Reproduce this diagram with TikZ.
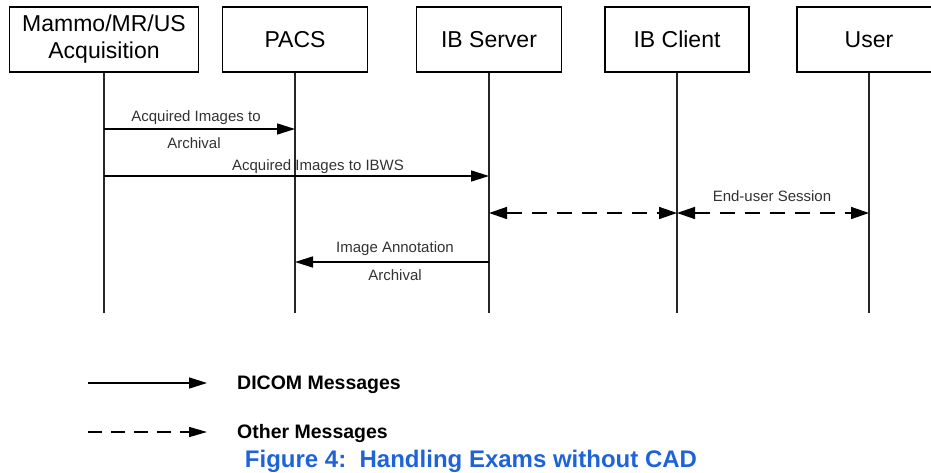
\documentclass[tikz,border=0pt]{standalone}
\usepackage{fontspec}
\setmainfont{Liberation Sans}
\usetikzlibrary{arrows.meta}
\definecolor{capblue}{RGB}{30,100,215}
\definecolor{lblgray}{RGB}{50,50,50}
\begin{document}
\begin{tikzpicture}[x=1pt,y=-1pt,
  box/.style={draw, line width=1.3pt, minimum height=65pt, inner sep=0pt,
    font=\fontsize{23}{27}\selectfont, align=center},
  life/.style={line width=1.9pt, draw=black!85},
  msg/.style={line width=1.5pt, -{Triangle[length=18pt,width=11pt]}},
  dmsg/.style={line width=1.5pt, dash pattern=on 15pt off 10pt,
    {Triangle[length=18pt,width=12pt]}-{Triangle[length=18pt,width=12pt]}},
  lmsg/.style={line width=1.5pt, dash pattern=on 14pt off 9pt, -{Triangle[length=18pt,width=10pt]}},
  lbl/.style={font=\fontsize{15}{18}\selectfont, text=lblgray, inner sep=0pt, anchor=base},
  leg/.style={font=\bfseries\fontsize{19.5}{22}\selectfont, inner sep=0pt, anchor=base west}
]
\useasboundingbox (0,0) rectangle (931,472);
\clip (0,0) rectangle (931,472);

% participants
\node[box, minimum width=189pt] (acq) at (104,39.5) {Mammo/MR/US\\Acquisition};
\node[box, minimum width=145pt] (pacs) at (295,39.5) {PACS};
\node[box, minimum width=145pt] (ibs) at (489,39.5) {IB Server};
\node[box, minimum width=144pt] (ibc) at (677,39.5) {IB Client};
\node[box, minimum width=144pt] (user) at (869,39.5) {User};

% lifeline ends
\coordinate (acqE) at (104,313);
\coordinate (pacsE) at (295,313);
\coordinate (ibsE) at (489,313);
\coordinate (ibcE) at (677,313);
\coordinate (userE) at (869,313);
\draw[life] (acq.south) -- (acqE);
\draw[life] (pacs.south) -- (pacsE);
\draw[life] (ibs.south) -- (ibsE);
\draw[life] (ibc.south) -- (ibcE);
\draw[life] (user.south) -- (userE);

% message end points
\coordinate (m1s) at (104,129);
\coordinate (m1e) at (295,129);
\coordinate (m2s) at (104,176);
\coordinate (m2e) at (489,176);
\coordinate (m3s) at (489,213);
\coordinate (m3e) at (677,213);
\coordinate (m4e) at (869,213);
\coordinate (m5s) at (489,262);
\coordinate (m5e) at (295,262);

\draw[msg] (m1s) -- (m1e);
\draw[msg] (m2s) -- (m2e);
\draw[dmsg] (m3s) -- (m3e);
\draw[dmsg] (m3e) -- (m4e);
\draw[msg] (m5s) -- (m5e);

% labels
\node[lbl] (l1a) at (196,121) {Acquired Images to};
\node[lbl] (l1b) at (194,148.5) {Archival};
\node[lbl] (l2) at (318,170.5) {Acquired Images to IBWS};
\node[lbl] (l3) at (772,201.5) {End-user Session};
\node[lbl] (l4a) at (395,252) {Image Annotation};
\node[lbl] (l4b) at (395,280) {Archival};

% legend
\coordinate (g1s) at (88,383);
\coordinate (g1e) at (207,383);
\coordinate (g2s) at (88,432);
\coordinate (g2e) at (207,432);
\draw[msg] (g1s) -- (g1e);
\draw[lmsg] (g2s) -- (g2e);
\node[leg] (dicom) at (237,389) {DICOM Messages};
\node[leg] (other) at (237,438.5) {Other Messages};

% caption
\node[font=\bfseries\fontsize{24}{27}\selectfont, text=capblue, inner sep=0pt, anchor=base] (cap) at (471,467) {Figure 4:\ \ Handling Exams without CAD};
\end{tikzpicture}
\end{document}
